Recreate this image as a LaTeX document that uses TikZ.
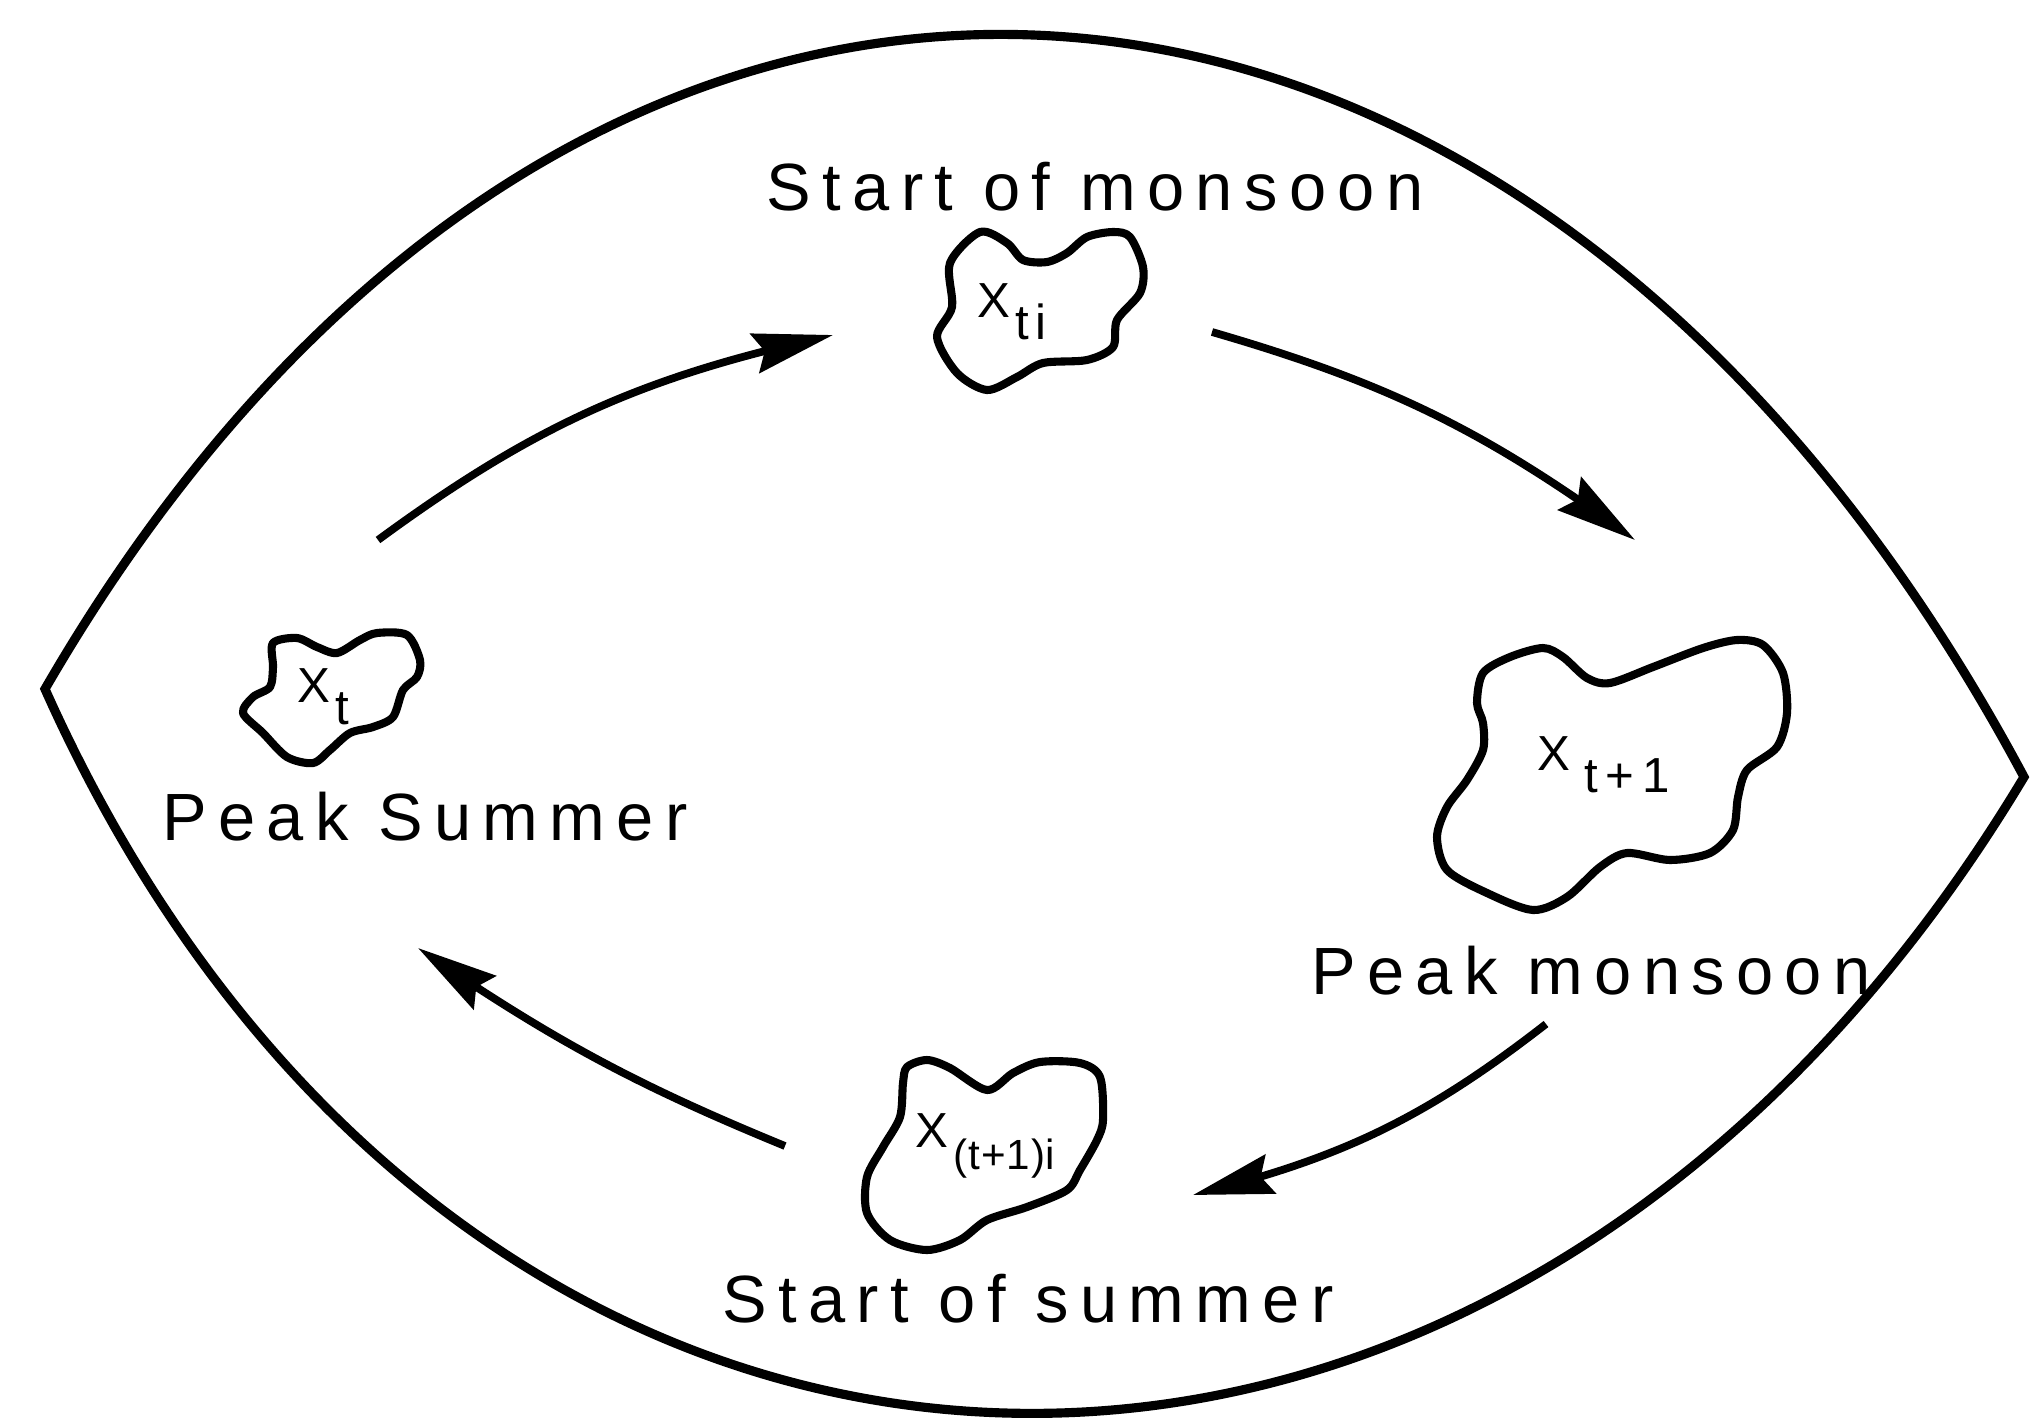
\documentclass[tikz,border=0pt]{standalone}
\usepackage{fontspec}
\setmainfont{Liberation Sans}
\newfontfamily\lblfont[LetterSpace=17]{Liberation Sans}
\newfontfamily\idxfont[LetterSpace=12]{Liberation Sans}
\usetikzlibrary{arrows.meta, bending}

\newcommand\xlab[1]{X\kern1.5pt\raisebox{-6.5pt}{#1}}

\begin{document}
\begin{tikzpicture}[
    x=0.01cm, y=-0.01cm,
    lbl/.style={font=\lblfont\fontsize{19}{22}\selectfont, inner sep=0pt, anchor=base},
    idx/.style={font=\idxfont\fontsize{14}{16}\selectfont, inner sep=0pt, anchor=base west},
    blob/.style={line width=2.3pt, line join=round},
    arr/.style={-{Stealth[length=8mm, width=4mm, inset=1mm]}, line width=2.2pt}
  ]
  \useasboundingbox (0,0) rectangle (2037,1418);

  % outer lens
  \draw[line width=2.6pt] (45,689) .. controls (575,-227) and (1520,-167) .. (2024,777)
        .. controls (1494,1660) and (460,1618) .. cycle;

  % season labels
  \node[lbl] (smon) at (1095,210) {Start of monsoon};
  \node[lbl] (psum) at (425,840) {Peak Summer};
  \node[lbl] (pmon) at (1591,994) {Peak monsoon};
  \node[lbl] (ssum) at (1028,1322) {Start of summer};

  % blobs
  \draw[blob] plot[smooth cycle] coordinates {(950,263) (980,232) (1007,243) (1023,260)
    (1047,262) (1067,253) (1087,237) (1113,232) (1130,237) (1143,267) (1140,293)
    (1117,320) (1113,347) (1087,360) (1043,363) (1017,377) (987,390) (957,373)
    (937,337) (952,307)};
  \draw[blob] plot[smooth cycle] coordinates {(273,643) (297,638) (317,647) (337,653)
    (360,640) (377,633) (407,635) (420,660) (417,677) (403,690) (393,717) (373,727)
    (350,733) (330,750) (313,763) (287,757) (263,733) (243,713) (253,697) (270,687)
    (273,667)};
  \draw[blob] plot[smooth cycle] coordinates {(1483,673) (1510,657) (1543,648)
    (1563,657) (1587,678) (1610,683) (1653,667) (1703,648) (1737,640) (1763,645)
    (1783,673) (1787,713) (1777,747) (1747,770) (1738,797) (1733,830) (1710,853)
    (1670,860) (1627,853) (1600,867) (1567,897) (1533,910) (1487,893) (1447,870)
    (1437,837) (1447,807) (1467,780) (1483,750) (1483,723) (1477,703)};
  \draw[blob] plot[smooth cycle] coordinates {(907,1067) (927,1060) (950,1068)
    (987,1090) (1013,1073) (1040,1062) (1080,1063) (1100,1077) (1103,1120)
    (1097,1140) (1080,1170) (1067,1190) (1027,1207) (987,1220) (960,1240)
    (927,1250) (890,1240) (867,1213) (867,1177) (883,1147) (900,1117) (903,1083)};

  % blob labels
  \node[idx] (xti) at (977,317) {\xlab{ti}};
  \node[idx] (xt) at (297,702) {\xlab{t}};
  \node[idx] (xtp) at (1537,770) {\xlab{\,t\,+\,1}};
  \node[idx] (xtpi) at (915,1147) {\xlab{\addfontfeature{LetterSpace=2}\fontsize{12}{14}\selectfont(t+1)i}};

  % cycle arrows
  \coordinate (a1s) at (378,540);  \coordinate (a1e) at (833,335);
  \coordinate (a2s) at (1212,332); \coordinate (a2e) at (1635,540);
  \coordinate (a3s) at (1546,1024); \coordinate (a3e) at (1193,1195);
  \coordinate (a4s) at (785,1146); \coordinate (a4e) at (418,948);

  \draw[arr] (a1s) to[bend left=12] (a1e);
  \draw[arr] (a2s) to[bend left=10] (a2e);
  \draw[arr] (a3s) to[bend left=12] (a3e);
  \draw[arr] (a4s) to[bend left=6] (a4e);
\end{tikzpicture}
\end{document}
